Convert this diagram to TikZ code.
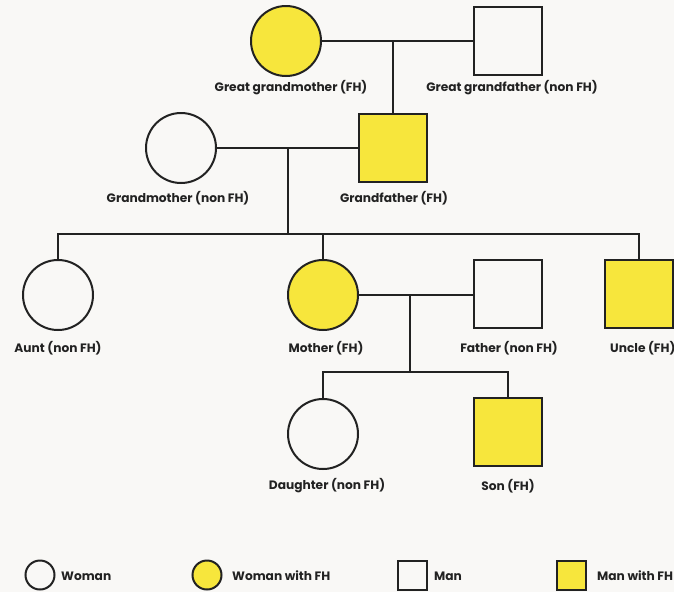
\documentclass[tikz,border=0pt]{standalone}
\usepackage{fontspec}
\setmainfont{Poppins}
\definecolor{bgcol}{HTML}{F9F8F6}
\definecolor{fhyellow}{HTML}{F7E63C}
\definecolor{inkcol}{HTML}{222222}
\tikzset{
    woman/.style={circle, draw=inkcol, line width=2pt, minimum size=70pt, inner sep=0pt, fill=bgcol},
    womanfh/.style={woman, fill=fhyellow},
    man/.style={rectangle, draw=inkcol, line width=2pt, minimum size=68pt, inner sep=0pt, fill=bgcol},
    manfh/.style={man, fill=fhyellow},
    keywoman/.style={woman, minimum size=29pt},
    keywomanfh/.style={womanfh, minimum size=29pt},
    keyman/.style={man, minimum size=29pt},
    keymanfh/.style={manfh, minimum size=29pt},
    lbl/.style={font=\bfseries\fontsize{12.2}{14}\selectfont, text=inkcol, inner sep=0pt},
    link/.style={draw=inkcol, line width=1.8pt},
}
\begin{document}
\begin{tikzpicture}[x=1pt, y=-1pt]
    %--------------------%
    % Canvas
    %--------------------%
    \fill[bgcol] (0,0) rectangle (674,592);
    \useasboundingbox (0,0) rectangle (674,592);

    %--------------------%
    % Great grandparents
    %--------------------%
    \node[womanfh] (ggm) at (286,41) {};
    \node[man] (ggf) at (508,41) {};
    \node[lbl] (ggmlbl) at (291,88) {Great grandmother (FH)};
    \node[lbl] (ggflbl) at (512,88) {Great grandfather (non FH)};

    %--------------------%
    % Grandparents
    %--------------------%
    \node[woman] (gm) at (181,148) {};
    \node[manfh] (gf) at (393,148) {};
    \node[lbl] (gmlbl) at (178,198) {Grandmother (non FH)};
    \node[lbl] (gflbl) at (394,198) {Grandfather (FH)};

    %--------------------%
    % Parents, aunt and uncle
    %--------------------%
    \node[woman] (aunt) at (58,295) {};
    \node[womanfh] (mother) at (323,295) {};
    \node[man] (father) at (508,294) {};
    \node[manfh] (uncle) at (639,294) {};
    \node[lbl] (auntlbl) at (58,348) {Aunt (non FH)};
    \node[lbl] (motherlbl) at (326,348) {Mother (FH)};
    \node[lbl] (fatherlbl) at (509,348) {Father (non FH)};
    \node[lbl, anchor=west] (unclelbl) at (610,348) {Uncle (FH)};

    %--------------------%
    % Children
    %--------------------%
    \node[woman] (daughter) at (323,434) {};
    \node[manfh] (son) at (508,432) {};
    \node[lbl] (daughterlbl) at (327,486) {Daughter (non FH)};
    \node[lbl] (sonlbl) at (508,486) {Son (FH)};

    %--------------------%
    % Connections
    %--------------------%
    % Great grandparents to grandfather
    \draw[link] (ggm.east) -- (ggf.west);
    \coordinate (knot1) at (393,41);
    \draw[link] (knot1) -- (gf.north);

    % Grandparents to their children
    \draw[link] (gm.east) -- (gf.west);
    \coordinate (knot2) at (288,148);
    \coordinate (bar1) at (288,234);
    \draw[link] (knot2) -- (bar1);
    \draw[link] (aunt.north) -- (aunt.north |- bar1) -- (uncle.north |- bar1) -- (uncle.north);
    \draw[link] (mother.north) -- (mother.north |- bar1);

    % Parents to their children
    \draw[link] (mother.east) -- (father.west |- mother.east);
    \coordinate (knot3) at (410,295);
    \coordinate (bar2) at (410,372);
    \draw[link] (knot3) -- (bar2);
    \draw[link] (daughter.north) -- (daughter.north |- bar2) -- (son.north |- bar2) -- (son.north);

    %--------------------%
    % Legend
    %--------------------%
    \node[keywoman] (kw) at (40,575) {};
    \node[lbl, anchor=west] (kwlbl) at (61,576) {Woman};
    \node[keywomanfh] (kwfh) at (207,575) {};
    \node[lbl, anchor=west] (kwfhlbl) at (232,576) {Woman with FH};
    \node[keyman] (km) at (412,575) {};
    \node[lbl, anchor=west] (kmlbl) at (434,576) {Man};
    \node[keymanfh] (kmfh) at (571,575) {};
    \node[lbl, anchor=west] (kmfhlbl) at (597,576) {Man with FH};
\end{tikzpicture}
\end{document}
